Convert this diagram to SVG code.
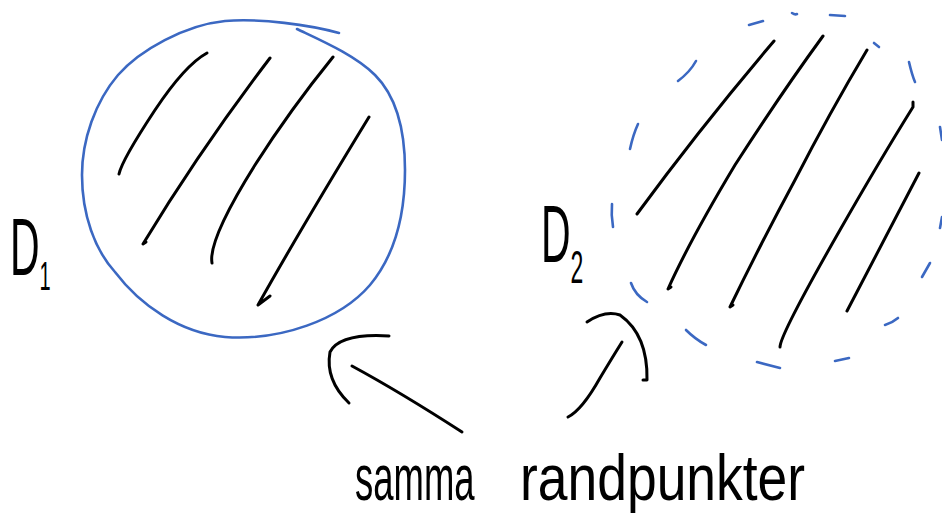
<svg xmlns="http://www.w3.org/2000/svg" width="942" height="522" viewBox="0 0 942 522">
<style>
.blue{fill:none;stroke:#3b68c2;stroke-width:2.6;stroke-linecap:round;stroke-linejoin:round}
.ink{fill:none;stroke:#000;stroke-width:3;stroke-linecap:round;stroke-linejoin:round}
.lbl{font-family:"Liberation Sans",Arial,sans-serif;fill:#000}
</style>
<rect width="942" height="522" fill="#fff"/>
<g id="D1">
<path class="blue" d="M339,33 C310,25 260,18 225,21 C185,25 140,50 118,75 C95,102 82,140 82,175 C82,215 95,250 115,272 C140,305 180,333 225,337 C280,341 340,320 370,285 C395,255 405,215 405,170 C405,125 395,95 375,75 C355,55 320,40 297,29"/>
<path class="ink" d="M119,174 Q122,160 155,110 Q185,65 207,53"/>
<path class="ink" d="M146,242 L143,244 Q200,150 270,58"/>
<path class="ink" d="M212,263 Q208,240 255,165 Q290,110 333,57"/>
<path class="ink" d="M270,296 L258,305 Q300,230 369,117"/>
<text class="lbl" transform="translate(10,275) scale(0.5,1)" font-size="82">D<tspan font-size="40" dy="15">1</tspan></text>
</g>
<g id="D2">
<g class="blue">
<path d="M749,25 L763,21"/>
<path d="M792,13 Q795,15 797,14"/>
<path d="M830,15 L845,16"/>
<path d="M874,43 L879,47"/>
<path d="M909,62 Q912,75 915,82"/>
<path d="M940,127 L942,140"/>
<path d="M942,217 L940,228"/>
<path d="M930,263 L922,277"/>
<path d="M898,318 Q892,323 885,325"/>
<path d="M849,358 L835,361"/>
<path d="M780,368 L757,362"/>
<path d="M706,345 Q695,339 686,330"/>
<path d="M647,302 Q635,295 631,283"/>
<path d="M613,227 Q611,215 612,204"/>
<path d="M630,149 Q633,135 638,124"/>
<path d="M678,81 Q690,72 696,61"/>
</g>
<path class="ink" d="M637,214 Q700,128 774,41"/>
<path class="ink" d="M671,287 L668,289 Q690,240 735,165 Q780,95 823,36"/>
<path class="ink" d="M733,305 L730,307 Q760,245 795,180 Q830,112 867,50"/>
<path class="ink" d="M780,347 Q780,335 840,230 Q880,160 913,107 L913,102"/>
<path class="ink" d="M847,311 L919,173"/>
<text class="lbl" transform="translate(541,262) scale(0.5,1)" font-size="82">D<tspan font-size="46" dy="21">2</tspan></text>
</g>
<g id="connectors">
<path class="ink" d="M462,432 Q400,392 352,366"/>
<path class="ink" d="M389,336 Q340,333 330,352 Q325,380 349,403"/>
<path class="ink" d="M568,417 Q582,410 600,378 Q612,358 622,342"/>
<path class="ink" d="M587,322 Q605,310 620,315 Q648,335 647,380 L643,380"/>
</g>
<g id="label">
<text class="lbl" transform="translate(355,500) scale(0.57,1)" font-size="64">samma</text>
<text class="lbl" transform="translate(520,500) scale(0.835,1)" font-size="64">randpunkter</text>
</g>
</svg>
